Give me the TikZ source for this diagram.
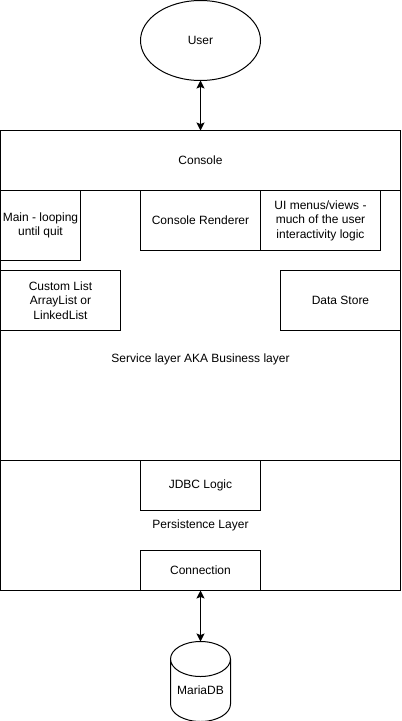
\documentclass[tikz,border=0pt]{standalone}
\usepackage{fontspec}
\setmainfont{Liberation Sans}
\usepackage{tikz}
\usetikzlibrary{shapes,arrows,arrows.meta,positioning,calc}

\tikzset{
    block/.style={draw=black, line width=0.75pt, inner sep=0pt, outer sep=0pt, align=center,
        font=\fontsize{9}{10.8}\selectfont},
    link/.style={{Stealth[length=6pt,width=6pt,inset=1.2pt]}-{Stealth[length=6pt,width=6pt,inset=1.2pt]}, line width=0.75pt},
}

\begin{document}
\begin{tikzpicture}[x=0.75pt, y=-0.75pt]
            \useasboundingbox (-0.5,-0.5) rectangle (400.5,720.5);

            \node[block, ellipse, minimum width=90pt, minimum height=60pt] (user) at (200,40) {User};
            \node[block, minimum width=300pt, minimum height=45pt] (console) at (200,160) {Console};

            % layer boxes
            \node[block, minimum width=300pt, minimum height=202.5pt] (service) at (200,325) {};
            \node[block, minimum width=300pt, minimum height=97.5pt] (persistence) at (200,525) {Persistence Layer};
            \node[font=\fontsize{9}{10.8}\selectfont] (servicelabel) at (200,359) {Service layer AKA Business layer};

            \node[block, minimum width=60pt, minimum height=52.5pt] (main) at (40,225) {Main - looping\\until quit};
            \node[block, minimum width=90pt, minimum height=45pt] (renderer) at (200,220) {Console Renderer};
            \node[block, minimum width=90pt, minimum height=45pt] (menus) at (320,220) {UI menus/views -\\much of the user\\interactivity logic};
            \node[block, minimum width=90pt, minimum height=45pt] (customlist) at (60,300) {Custom List\\ArrayList or\\LinkedList};
            \node[block, minimum width=90pt, minimum height=45pt] (datastore) at (340,300) {Data Store};
            \node[block, minimum width=90pt, minimum height=37.5pt] (jdbc) at (200,485) {JDBC Logic};
            \node[block, minimum width=90pt, minimum height=30pt] (connection) at (200,570) {Connection};

            \node[block, cylinder, shape border rotate=90, aspect=0.75, minimum width=45pt, minimum height=60pt] (mariadb) at (200,690) {MariaDB};

            \draw[link] (user.south) -- (console.north);
            \draw[link] (connection.south) -- (mariadb.top);
        \end{tikzpicture}
\end{document}
